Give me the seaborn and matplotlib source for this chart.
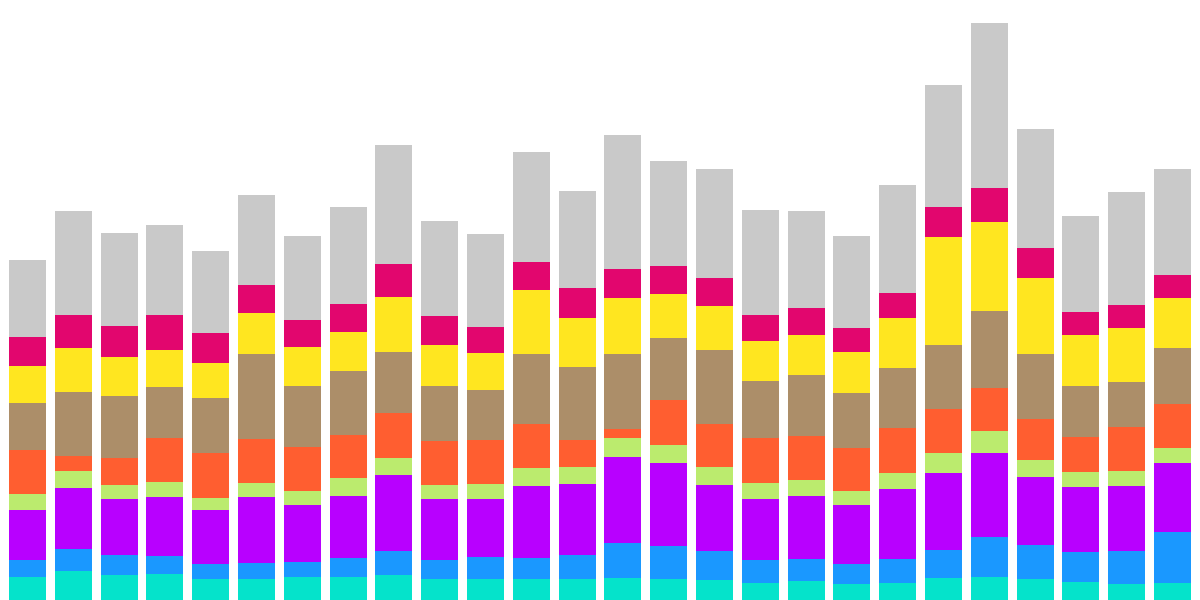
import numpy as np
import pandas as pd
import matplotlib
matplotlib.use("Agg")
import matplotlib.pyplot as plt
import seaborn as sns

categories = [f"C{i+1}" for i in range(26)]

teal    = [60, 76, 65, 68, 55, 55, 60, 60, 65, 55, 55, 55, 55, 57, 55, 52, 44, 50, 42, 44, 57, 60, 55, 47, 42, 44]
blue    = [45, 57, 53, 47, 39, 42, 39, 50, 63, 50, 57, 55, 63, 92, 86, 76, 61, 57, 52, 63, 74, 105, 89, 78, 86, 134]
purple  = [130, 160, 146, 154, 141, 172, 149, 162, 199, 159, 152, 188, 185, 225, 217, 173, 159, 165, 154, 183, 201, 219, 177, 170, 170, 180]
green   = [42, 44, 37, 39, 32, 37, 37, 47, 44, 37, 39, 47, 45, 50, 47, 47, 42, 42, 37, 42, 52, 58, 45, 40, 39, 39]
orange  = [116, 40, 70, 115, 116, 115, 116, 112, 118, 115, 115, 115, 70, 24, 118, 112, 117, 115, 112, 117, 115, 112, 107, 91, 115, 115]
tan     = [122, 167, 162, 134, 145, 222, 158, 167, 159, 143, 131, 183, 191, 196, 162, 193, 149, 159, 144, 157, 167, 201, 170, 133, 118, 147]
yellow  = [97, 115, 102, 96, 91, 107, 102, 102, 144, 107, 96, 167, 128, 146, 115, 115, 105, 105, 107, 131, 283, 233, 198, 134, 141, 130]
magenta = [75, 86, 81, 92, 79, 73, 71, 74, 86, 76, 68, 73, 78, 76, 73, 73, 68, 70, 63, 65, 78, 89, 79, 60, 60, 60]
grey    = [202, 272, 243, 235, 214, 235, 219, 253, 311, 248, 243, 288, 254, 350, 274, 285, 274, 254, 240, 283, 319, 431, 311, 251, 295, 277]

series = [teal, blue, purple, green, orange, tan, yellow, magenta, grey]
colors = ["#05e3cb", "#1a98ff", "#b800ff", "#bbeb6e", "#ff5e30",
          "#ac8e69", "#ffe620", "#e2066e", "#c9c9c9"]

fig = plt.figure(figsize=(12, 6), dpi=100)
ax = fig.add_axes([0, 0, 1, 1])

bottom = np.zeros(len(categories))
for vals, col in zip(series, colors):
    vals = np.array(vals, dtype=float)
    sns.barplot(x=categories, y=vals, bottom=bottom, color=col, saturation=1,
                width=0.808, linewidth=0, errorbar=None, ax=ax)
    bottom = bottom + vals

ax.set_xlim(-0.6, 25.6)
ax.set_ylim(0, 1568)
ax.axis("off")
fig.savefig("out.png", dpi=100, facecolor="white")
